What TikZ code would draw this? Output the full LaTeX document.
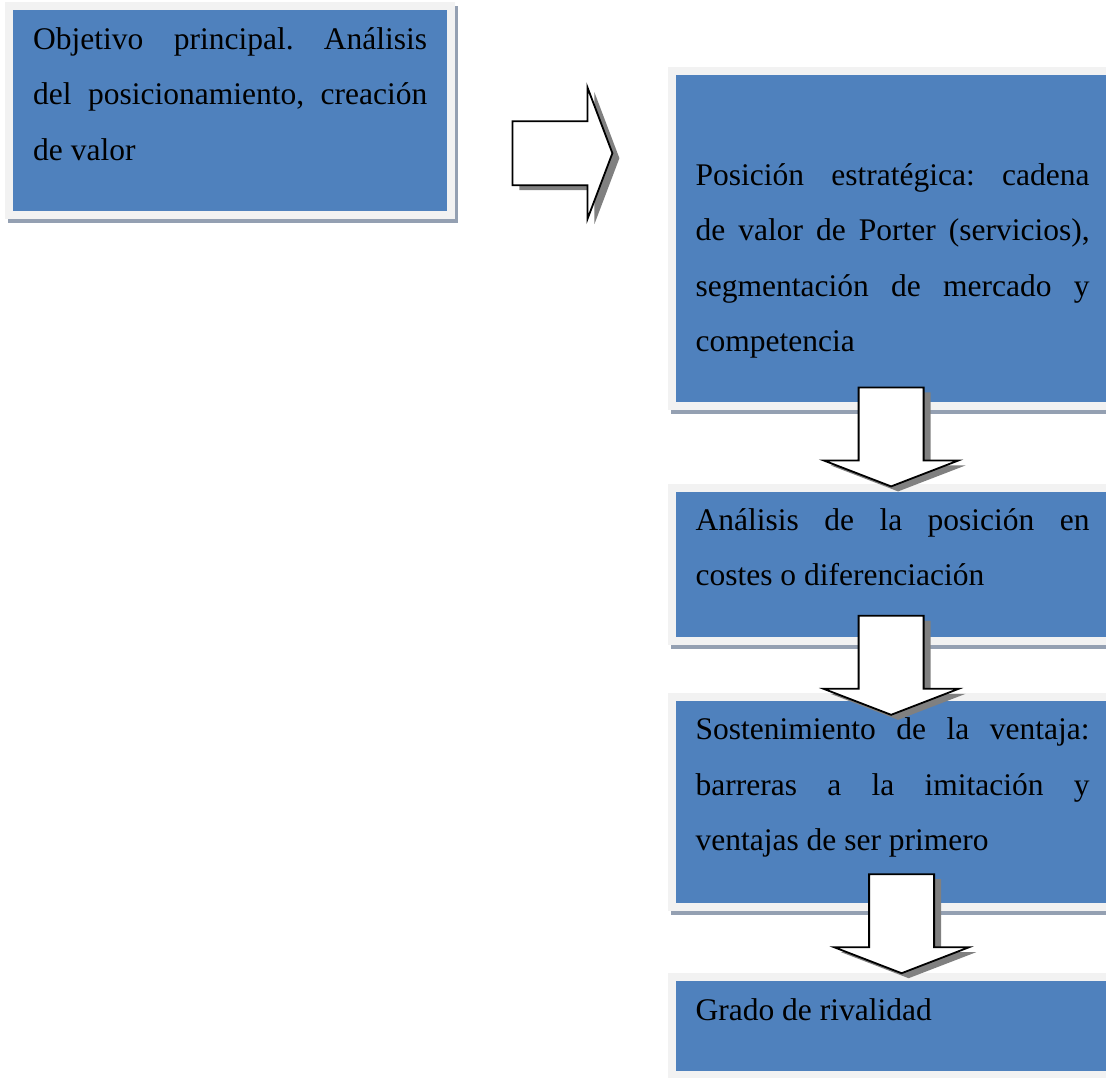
\documentclass[tikz,border=0pt]{standalone}
\usepackage{fontspec}
\setmainfont{Liberation Serif}
\usepackage{xcolor}
\definecolor{boxblue}{HTML}{4F81BD}
\definecolor{framegray}{HTML}{F2F2F2}
\definecolor{frameshade}{HTML}{94A0B2}
\definecolor{arrowgray}{HTML}{808080}
\usepackage{tikz}
\usetikzlibrary{calc,positioning}

% Justified text of a box: height, top gap, text
\newcommand{\boxtext}[3][0pt]{%
  \parbox[c][#2][t]{394pt}{\vspace*{#1}\fontsize{31.5}{55.5}\selectfont
    \frenchspacing\hbadness=10000\strut #3}}

\begin{document}
\begin{tikzpicture}[x=1pt, y=-1pt,
    blk/.style={fill=boxblue, inner xsep=20pt, inner ysep=0pt, anchor=north west,
      preaction={draw=frameshade, line width=16pt, transform canvas={shift={(3pt,-4pt)}}},
      preaction={draw=framegray, line width=16pt}},
    pics/darrow/.style={code={
      \foreach \dx/\dy/\fl/\dr in {7/5/arrowgray/none, 0/0/white/black}
        \path[fill=\fl, draw=\dr, line width=1.8pt, shift={(\dx,\dy)}]
          (-32.5,0) -- (32.5,0) -- (32.5,73) -- (67.5,73) -- (0,99)
          -- (-67.5,73) -- (-32.5,73) -- cycle;
    }},
    pics/rarrow/.style={code={
      \foreach \dx/\dy/\fl/\dr in {7/5/arrowgray/none, 0/0/white/black}
        \path[fill=\fl, draw=\dr, line width=1.8pt, shift={(\dx,\dy)}]
          (0,-32) -- (75,-32) -- (75,-66) -- (100,0) -- (75,66)
          -- (75,32) -- (0,32) -- cycle;
    }}]
  \useasboundingbox (0,0) rectangle (1106,1077);

  % Boxes
  \node[blk] (obj) at (13,10)
    {\boxtext{201pt}{Objetivo principal. Análisis\linebreak
      del posicionamiento, creación\linebreak de valor}};
  \node[blk] (pos) at ($(obj.north east)+(228,65)$)
    {\boxtext[71pt]{327pt}{Posición estratégica: cadena\linebreak
      de valor de Porter (servicios),\linebreak
      segmentación de mercado y\linebreak competencia}};
  \node[blk, below=89pt of pos] (cost)
    {\boxtext{145pt}{Análisis de la posición en\linebreak
      costes o diferenciación}};
  \node[blk, below=64pt of cost] (sost)
    {\boxtext{202pt}{Sostenimiento de la ventaja:\linebreak
      barreras a la imitación y\linebreak ventajas de ser primero}};
  \node[blk, below=78pt of sost] (riv)
    {\boxtext{90pt}{Grado de rivalidad}};

  % Block arrows
  \pic at ($(obj.east)+(65,42.5)$) {rarrow};
  \pic at ($(pos.south)+(-1.5,-15)$) {darrow};
  \pic at ($(cost.south)+(-1.5,-21)$) {darrow};
  \pic at ($(sost.south)+(9,-29)$) {darrow};
\end{tikzpicture}
\end{document}
